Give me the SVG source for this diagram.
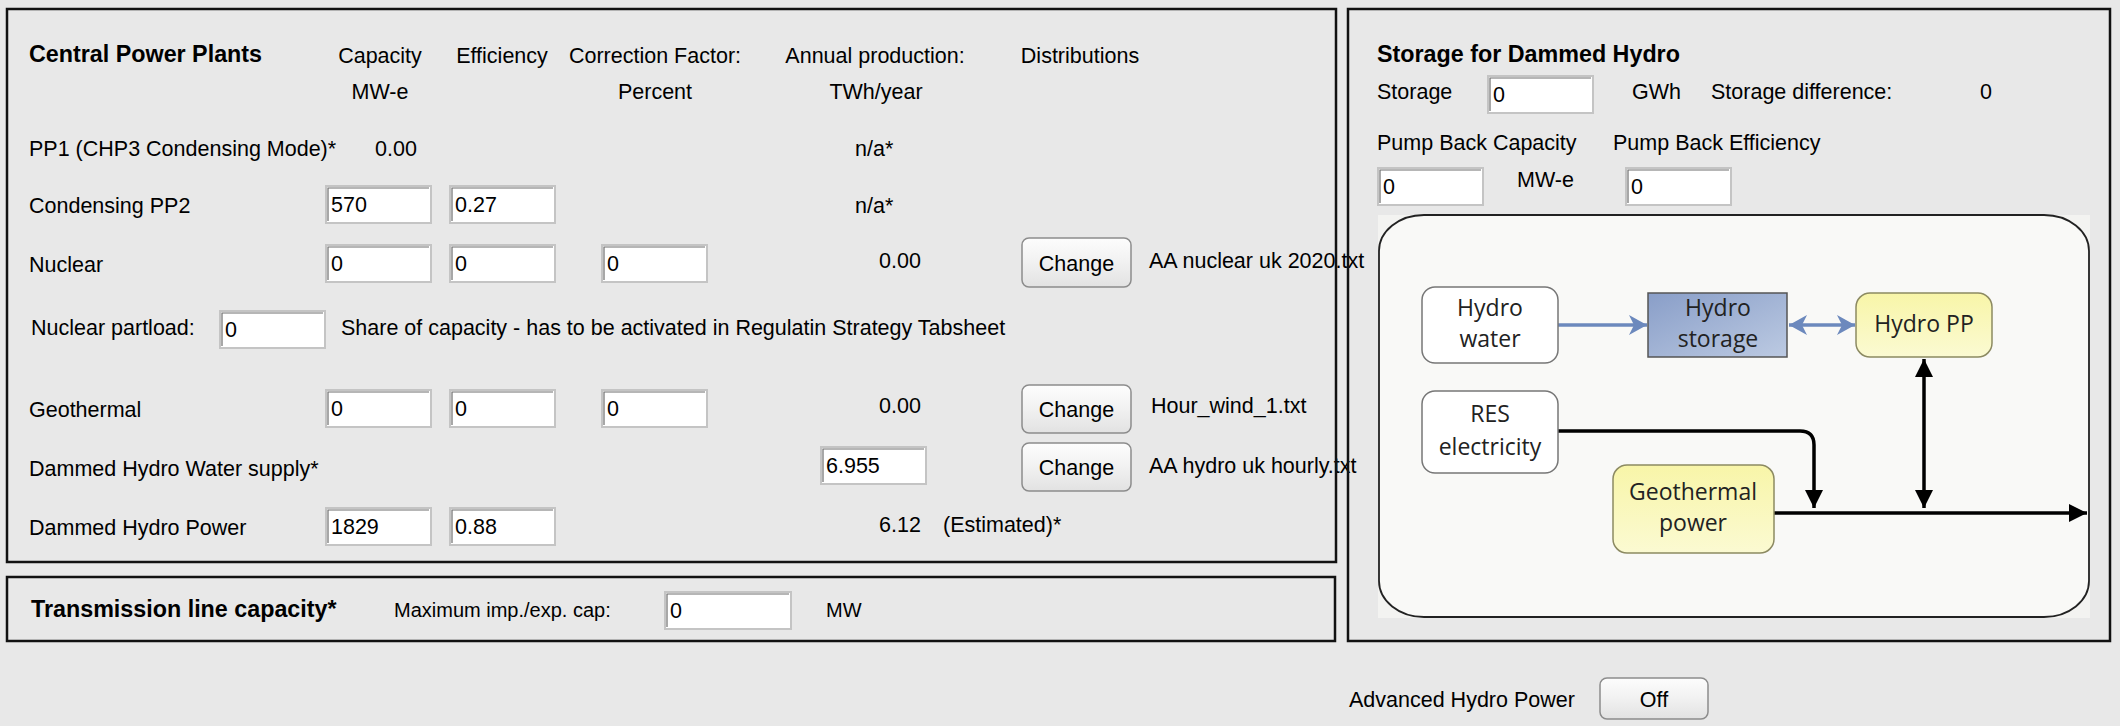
<svg xmlns="http://www.w3.org/2000/svg" width="2120" height="726" viewBox="0 0 2120 726">
<style>
.t{font-family:"Liberation Sans",Arial,sans-serif;font-size:21.5px;fill:#000}
.b{font-weight:bold;font-size:23.3px}
.s{font-size:20px}
.m{text-anchor:middle}
.box{fill:#fff;stroke:#c4c4c4;stroke-width:2}
.boxin{fill:none;stroke:#6e6e6e;stroke-width:1.2}
.btn{fill:url(#btng);stroke:#8c8c8c;stroke-width:1.5}
.panel{fill:none;stroke:#111;stroke-width:2.5}
.d{font-family:"Open Sans","Noto Sans",sans-serif;font-size:23px;fill:#222;text-anchor:middle}
.blue{stroke:#6c89bd;stroke-width:3.5;fill:none}
.blk{stroke:#000;stroke-width:3.5;fill:none}
</style>
<defs>
<linearGradient id="btng" x1="0" y1="0" x2="0" y2="1">
<stop offset="0" stop-color="#fdfdfd"/><stop offset="0.5" stop-color="#f1f1f1"/><stop offset="1" stop-color="#e2e2e2"/>
</linearGradient>
<linearGradient id="blueg" x1="0" y1="0" x2="1" y2="1">
<stop offset="0" stop-color="#899ec8"/><stop offset="1" stop-color="#bccae2"/>
</linearGradient>
<linearGradient id="yelg" x1="0" y1="0" x2="0" y2="1">
<stop offset="0" stop-color="#f8f5a8"/><stop offset="1" stop-color="#fbfad2"/>
</linearGradient>
<symbol id="ib" width="106" height="38" overflow="visible">
<rect class="box" x="0" y="0" width="105" height="37"/>
<path class="boxin" d="M2,35 V2 H103"/>
</symbol>
<marker id="ab" markerUnits="userSpaceOnUse" markerWidth="20" markerHeight="22" refX="18" refY="10" orient="auto-start-reverse">
<path d="M0,0 L18,10 L0,20 L5,10 z" fill="#6c89bd"/>
</marker>
<marker id="ak" markerUnits="userSpaceOnUse" markerWidth="20" markerHeight="20" refX="18" refY="9" orient="auto-start-reverse">
<path d="M0,0 L18,9 L0,18 z" fill="#000"/>
</marker>
</defs>
<rect x="0" y="0" width="2120" height="726" fill="#e8e8e8"/>

<g id="central-power-plants">
<text class="t b" x="29" y="62">Central Power Plants</text>
<text class="t m" x="380" y="63">Capacity</text>
<text class="t m" x="502" y="63">Efficiency</text>
<text class="t m" x="655" y="63">Correction Factor:</text>
<text class="t m" x="875" y="63">Annual production:</text>
<text class="t m" x="1080" y="63">Distributions</text>
<text class="t m" x="380" y="99">MW-e</text>
<text class="t m" x="655" y="99">Percent</text>
<text class="t m" x="876" y="99">TWh/year</text>

<text class="t" x="29" y="156">PP1 (CHP3 Condensing Mode)*</text>
<text class="t" x="375" y="156">0.00</text>
<text class="t" x="855" y="156">n/a*</text>

<text class="t" x="29" y="213">Condensing PP2</text>
<use href="#ib" x="326" y="186"/><text class="t" x="331" y="212">570</text>
<use href="#ib" x="450" y="186"/><text class="t" x="455" y="212">0.27</text>
<text class="t" x="855" y="213">n/a*</text>

<text class="t" x="29" y="272">Nuclear</text>
<use href="#ib" x="326" y="245"/><text class="t" x="331" y="271">0</text>
<use href="#ib" x="450" y="245"/><text class="t" x="455" y="271">0</text>
<use href="#ib" x="602" y="245"/><text class="t" x="607" y="271">0</text>
<text class="t" x="879" y="268">0.00</text>
<rect class="btn" x="1022" y="238" width="109" height="49" rx="7"/>
<text class="t m" x="1076.5" y="271">Change</text>
<text class="t" x="1149" y="268">AA nuclear uk 2020.txt</text>

<text class="t" x="31" y="335">Nuclear partload:</text>
<use href="#ib" x="220" y="311"/><text class="t" x="225" y="337">0</text>
<text class="t" x="341" y="335">Share of capacity - has to be activated in Regulatin Strategy Tabsheet</text>

<text class="t" x="29" y="417">Geothermal</text>
<use href="#ib" x="326" y="390"/><text class="t" x="331" y="416">0</text>
<use href="#ib" x="450" y="390"/><text class="t" x="455" y="416">0</text>
<use href="#ib" x="602" y="390"/><text class="t" x="607" y="416">0</text>
<text class="t" x="879" y="413">0.00</text>
<rect class="btn" x="1022" y="385" width="109" height="48" rx="7"/>
<text class="t m" x="1076.5" y="417">Change</text>
<text class="t" x="1151" y="413">Hour_wind_1.txt</text>

<text class="t" x="29" y="476">Dammed Hydro Water supply*</text>
<use href="#ib" x="821" y="447"/><text class="t" x="826" y="473">6.955</text>
<rect class="btn" x="1022" y="443" width="109" height="48" rx="7"/>
<text class="t m" x="1076.5" y="475">Change</text>
<text class="t" x="1149" y="473">AA hydro uk hourly.txt</text>

<text class="t" x="29" y="535">Dammed Hydro Power</text>
<use href="#ib" x="326" y="508"/><text class="t" x="331" y="534">1829</text>
<use href="#ib" x="450" y="508"/><text class="t" x="455" y="534">0.88</text>
<text class="t" x="879" y="532">6.12</text>
<text class="t" x="943" y="532">(Estimated)*</text>
<rect class="panel" x="7" y="9" width="1329" height="553"/>
</g>

<g id="transmission">
<text class="t b" x="31" y="617">Transmission line capacity*</text>
<text class="t s" x="394" y="617">Maximum imp./exp. cap:</text>
<rect class="box" x="665" y="592" width="126" height="37"/>
<path class="boxin" d="M667,627 V594 H789"/>
<text class="t" x="670" y="618">0</text>
<text class="t s" x="826" y="617">MW</text>
<rect class="panel" x="7" y="577" width="1328" height="64"/>
</g>

<g id="storage-panel">
<text class="t b" x="1377" y="62">Storage for Dammed Hydro</text>
<text class="t" x="1377" y="99">Storage</text>
<use href="#ib" x="1488" y="76"/><text class="t" x="1493" y="102">0</text>
<text class="t" x="1632" y="99">GWh</text>
<text class="t" x="1711" y="99">Storage difference:</text>
<text class="t" x="1980" y="99">0</text>
<text class="t" x="1377" y="150">Pump Back Capacity</text>
<text class="t" x="1613" y="150">Pump Back Efficiency</text>
<use href="#ib" x="1378" y="168"/><text class="t" x="1383" y="194">0</text>
<text class="t" x="1517" y="187">MW-e</text>
<use href="#ib" x="1626" y="168"/><text class="t" x="1631" y="194">0</text>
<rect class="panel" x="1348" y="9" width="762" height="632"/>
</g>

<g id="diagram-frame">
<rect x="1378" y="215" width="712" height="403" fill="#f3f3f1"/>
<rect x="1379" y="215" width="710" height="402" rx="45" ry="36" fill="#f9f9f7" stroke="#222" stroke-width="1.8"/>
</g>

<g id="connectors">
<path class="blue" d="M1558,325 H1647" marker-end="url(#ab)"/>
<path class="blue" d="M1789,325 H1855" marker-start="url(#ab)" marker-end="url(#ab)"/>
<path class="blk" d="M1558,431 H1800 Q1814,431 1814,445 V508" marker-end="url(#ak)"/>
<path class="blk" d="M1774,513 H2087" marker-end="url(#ak)"/>
<path class="blk" d="M1924,359 V508" marker-start="url(#ak)" marker-end="url(#ak)"/>
</g>

<g id="hydro-water">
<rect x="1422" y="287" width="136" height="76" rx="13" fill="#fff" stroke="#777" stroke-width="1.5"/>
<text class="d" x="1490" y="316">Hydro</text>
<text class="d" x="1490" y="347">water</text>
</g>
<g id="hydro-storage">
<rect x="1648" y="293" width="139" height="64" fill="url(#blueg)" stroke="#555" stroke-width="1.5"/>
<text class="d" x="1718" y="316">Hydro</text>
<text class="d" x="1718" y="347">storage</text>
</g>
<g id="hydro-pp">
<rect x="1856" y="293" width="136" height="64" rx="14" fill="url(#yelg)" stroke="#8c8a62" stroke-width="1.5"/>
<text class="d" x="1924" y="332">Hydro PP</text>
</g>
<g id="res-electricity">
<rect x="1422" y="391" width="136" height="82" rx="13" fill="#fff" stroke="#777" stroke-width="1.5"/>
<text class="d" x="1490" y="422">RES</text>
<text class="d" x="1490" y="455">electricity</text>
</g>
<g id="geothermal-power">
<rect x="1613" y="465" width="161" height="88" rx="14" fill="url(#yelg)" stroke="#8c8a62" stroke-width="1.5"/>
<text class="d" x="1693" y="500">Geothermal</text>
<text class="d" x="1693" y="531">power</text>
</g>

<g id="advanced-hydro">
<text class="t" x="1349" y="707">Advanced Hydro Power</text>
<rect class="btn" x="1600" y="678" width="108" height="41" rx="7"/>
<text class="t m" x="1654" y="707">Off</text>
</g>
</svg>
